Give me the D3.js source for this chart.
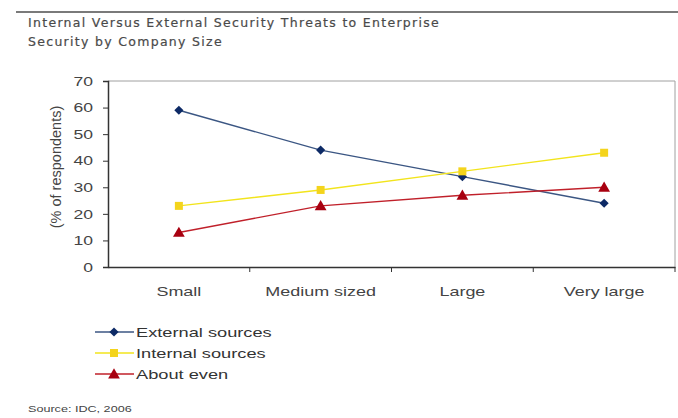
<!DOCTYPE html>
<html><head><meta charset="utf-8">
<script src="https://cdn.jsdelivr.net/npm/d3@7"></script>
<style>body{margin:0;background:#fff}svg{display:block}</style>
</head><body>
<svg id="c" width="678" height="418"></svg>
<script>
const categories = ["Small", "Medium sized", "Large", "Very large"];
const external = [59, 44, 34, 24];
const internal = [23, 29, 36, 43];
const aboutEven = [13, 23, 27, 30];
const yTicks = [0, 10, 20, 30, 40, 50, 60, 70];
const seriesNames = ["External sources", "Internal sources", "About even"];
const titleLines = ["Internal Versus External Security Threats to Enterprise", "Security by Company Size"];
const yLabel = "(% of respondents)";
const source = "Source: IDC, 2006";

const diamond = {draw(ctx, size) { const r = Math.sqrt(size / 2); ctx.moveTo(0, -r); ctx.lineTo(r, 0); ctx.lineTo(0, r); ctx.lineTo(-r, 0); ctx.closePath(); }};

const series = [
  {name: seriesNames[0], values: external, line: "#3b5683", marker: "#0d2a66", shape: diamond, size: 42, dy: 0},
  {name: seriesNames[1], values: internal, line: "#f2e41c", marker: "#f4d41c", shape: d3.symbolSquare, size: 64, dy: 0},
  {name: seriesNames[2], values: aboutEven, line: "#c0202a", marker: "#a80010", shape: d3.symbolTriangle, size: 60, dy: 1}
];

const svg = d3.select("#c");
const font = "Arial, 'Liberation Sans', sans-serif";
function stretch(sel, f) {
  sel.each(function() { const w = this.getComputedTextLength(); d3.select(this).attr("textLength", w * f).attr("lengthAdjust", "spacingAndGlyphs"); });
}

// top rule
svg.append("line").attr("x1", 16).attr("x2", 678).attr("y1", 12).attr("y2", 12)
  .attr("stroke", "#7a7a7a").attr("stroke-width", 2);

// title
const tt = svg.selectAll("text.title").data(titleLines).join("text").attr("class", "title")
  .attr("x", 28).attr("y", (d, i) => 27 + i * 19)
  .attr("font-family", "Verdana, 'DejaVu Sans', sans-serif").attr("font-size", 12.5)
  .attr("letter-spacing", 1.3).attr("fill", "#4a4a4a").attr("stroke", "#4a4a4a").attr("stroke-width", 0.2).text(d => d);

const L = 108, R = 675, T = 81, B = 267;
const x = d3.scaleBand().domain(categories).range([L, R]);
const y = d3.scaleLinear().domain([0, 70]).range([B, T]);

// plot frame (top & right)
svg.append("path").attr("d", `M${L},${T}H${R}V${B}`).attr("fill", "none")
  .attr("stroke", "#a0a0a0").attr("stroke-width", 1);

// y axis
const ya = svg.append("g").attr("transform", `translate(${L},0)`)
  .call(d3.axisLeft(y).tickValues(yTicks).tickSize(5).tickPadding(10).tickFormat(d3.format("d")));
ya.select(".domain").attr("stroke", "#333").attr("stroke-width", 1.5);
ya.selectAll(".tick line").attr("stroke", "#333");
ya.selectAll(".tick text").attr("font-family", font).attr("font-size", 13).attr("fill", "#444").call(stretch, 1.35);

// x axis
const xa = svg.append("g").attr("transform", `translate(0,${B})`)
  .call(d3.axisBottom(x).tickSize(0).tickPadding(19));
xa.select(".domain").attr("stroke", "#333").attr("stroke-width", 1.5);
xa.selectAll(".tick text").attr("font-family", font).attr("font-size", 13.5).attr("fill", "#444").call(stretch, 1.33);
// band boundary ticks
const bounds = categories.slice(1).map(c => x(c)).concat([R]);
svg.append("g").selectAll("line").data(bounds).join("line")
  .attr("x1", d => d).attr("x2", d => d).attr("y1", B).attr("y2", B + 5)
  .attr("stroke", "#333");

// y label
svg.append("text").attr("transform", `translate(61,167) rotate(-90)`)
  .attr("text-anchor", "middle").attr("font-family", font).attr("font-size", 14.5)
  .attr("fill", "#444").text(yLabel);

// series
const cx = c => x(c) + x.bandwidth() / 2;
const lineGen = d3.line().x((d, i) => cx(categories[i])).y(d => y(d));
series.forEach(s => {
  svg.append("path").datum(s.values).attr("d", lineGen).attr("fill", "none")
    .attr("stroke", s.line).attr("stroke-width", 1.4);
});
series.forEach(s => {
  svg.append("g").selectAll("path").data(s.values).join("path")
    .attr("transform", (d, i) => `translate(${cx(categories[i])},${y(d) + s.dy})`)
    .attr("d", d3.symbol().type(s.shape).size(s.size)).attr("fill", s.marker);
});

// legend
const lg = svg.append("g");
series.forEach((s, i) => {
  const yy = 332 + i * 21;
  lg.append("line").attr("x1", 95).attr("x2", 134).attr("y1", yy).attr("y2", yy)
    .attr("stroke", s.line).attr("stroke-width", 1.4);
  lg.append("path").attr("transform", `translate(114,${yy + s.dy})`)
    .attr("d", d3.symbol().type(s.shape).size(s.size)).attr("fill", s.marker);
  lg.append("text").attr("x", 136).attr("y", yy + 5).attr("font-family", font)
    .attr("font-size", 13.5).attr("fill", "#333").text(s.name).call(stretch, 1.35);
});

// source
svg.append("text").attr("x", 28).attr("y", 412).attr("font-family", font)
  .attr("font-size", 9).attr("fill", "#444").text(source).call(stretch, 1.4);
</script>
</body></html>
